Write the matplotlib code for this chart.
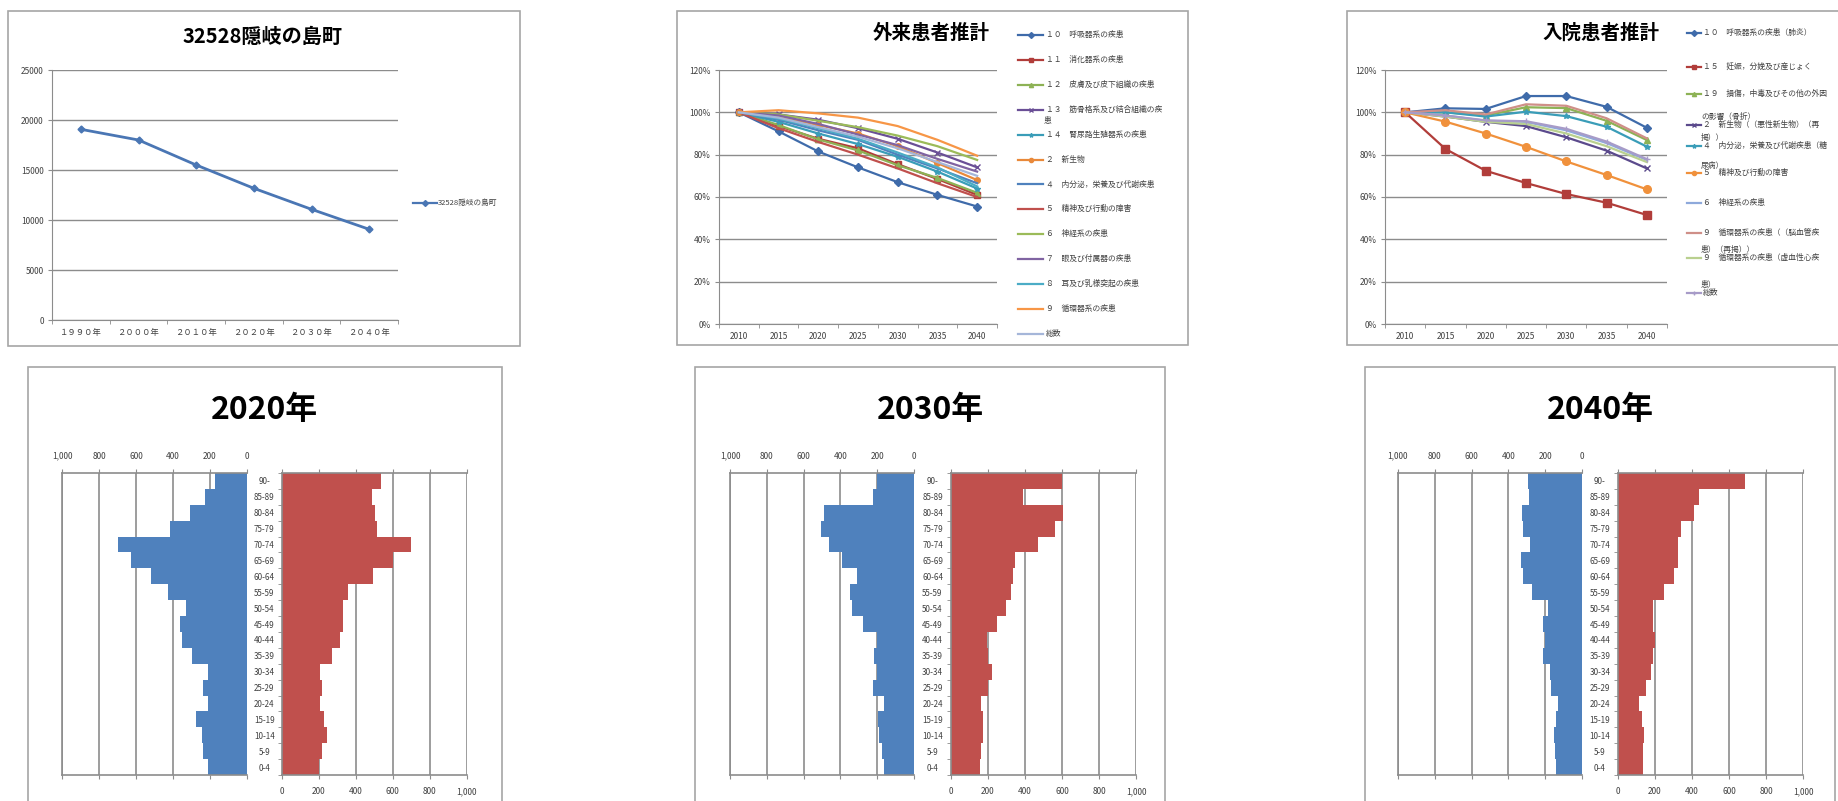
import numpy as np
import matplotlib
matplotlib.use("Agg")
import matplotlib.pyplot as plt
from matplotlib.patches import Rectangle
from matplotlib.lines import Line2D

plt.rcParams['font.family'] = ['Noto Sans CJK JP', 'DejaVu Sans']

W, H = 1838, 801
GRID = '#8C8C8C'
TXT = '#404040'

# --- population of 隠岐の島町 ---
pop_years = ['１９９０年', '２０００年', '２０１０年', '２０２０年', '２０３０年', '２０４０年']
pop_values = [19070, 18000, 15500, 13170, 11070, 9070]

# --- outpatient estimate (ratio to 2010) ---
est_years = ['2010', '2015', '2020', '2025', '2030', '2035', '2040']
out_labels = ['１０　呼吸器系の疾患', '１１　消化器系の疾患', '１２　皮膚及び皮下組織の疾患',
              '１３　筋骨格系及び結合組織の疾', '１４　腎尿路生殖器系の疾患', '２　新生物',
              '４　内分泌，栄養及び代謝疾患', '５　精神及び行動の障害', '６　神経系の疾患',
              '７　眼及び付属器の疾患', '８　耳及び乳様突起の疾患', '９　循環器系の疾患', '総数']
out_values = [
    [1.00, 0.910, 0.815, 0.740, 0.670, 0.610, 0.555],
    [1.00, 0.935, 0.875, 0.830, 0.755, 0.685, 0.610],
    [1.00, 0.940, 0.872, 0.820, 0.750, 0.690, 0.620],
    [1.00, 0.990, 0.965, 0.925, 0.875, 0.810, 0.740],
    [1.00, 0.955, 0.900, 0.850, 0.790, 0.720, 0.640],
    [1.00, 0.980, 0.940, 0.900, 0.840, 0.760, 0.680],
    [1.00, 0.965, 0.915, 0.870, 0.800, 0.735, 0.665],
    [1.00, 0.925, 0.860, 0.800, 0.735, 0.665, 0.600],
    [1.00, 0.990, 0.960, 0.930, 0.890, 0.840, 0.775],
    [1.00, 0.985, 0.945, 0.895, 0.845, 0.780, 0.720],
    [1.00, 0.970, 0.925, 0.875, 0.810, 0.740, 0.650],
    [1.00, 1.010, 0.995, 0.975, 0.935, 0.870, 0.795],
    [1.00, 0.975, 0.930, 0.885, 0.830, 0.765, 0.700],
]
out_colors = ['#3F6BAA', '#B13D3A', '#8DB255', '#6A4F96', '#3A9DB8', '#E9893A', '#4F81BD',
              '#C0504D', '#9BBB59', '#8064A2', '#4BACC6', '#F79646', '#A5B6D9']
out_markers = ['D', 's', '^', 'x', '*', 'o', None, None, None, None, None, None, None]

# --- inpatient estimate (ratio to 2010) ---
in_labels = ['１０　呼吸器系の疾患（肺炎）', '１５　妊娠，分娩及び産じょく',
             '１９　損傷，中毒及びその他の外因', '２　新生物（（悪性新生物）（再',
             '４　内分泌，栄養及び代謝疾患（糖', '５　精神及び行動の障害', '６　神経系の疾患',
             '９　循環器系の疾患（（脳血管疾', '９　循環器系の疾患（虚血性心疾', '総数']
in_wrap = ['', '', 'の影響（骨折）', '掲））', '尿病）', '', '', '患）（再掲））', '患）', '']
in_values = [
    [1.00, 1.019, 1.016, 1.077, 1.077, 1.026, 0.927],
    [1.00, 0.827, 0.724, 0.666, 0.614, 0.573, 0.515],
    [1.00, 1.000, 0.985, 1.024, 1.020, 0.960, 0.869],
    [1.00, 0.980, 0.955, 0.935, 0.882, 0.819, 0.735],
    [1.00, 1.000, 0.980, 1.003, 0.982, 0.932, 0.838],
    [1.00, 0.956, 0.900, 0.837, 0.768, 0.704, 0.636],
    [1.00, 0.985, 0.960, 0.955, 0.915, 0.855, 0.775],
    [1.00, 1.010, 0.990, 1.038, 1.031, 0.972, 0.877],
    [1.00, 0.980, 0.955, 0.945, 0.900, 0.840, 0.765],
    [1.00, 0.985, 0.962, 0.958, 0.922, 0.862, 0.779],
]
in_colors = ['#3F6BAA', '#B13D3A', '#8DB255', '#5B4A8C', '#3A9DB8', '#F0913C', '#8EA9DB',
             '#CF8F88', '#B9D08F', '#A79BC8']
in_markers = ['D', 's', '^', 'x', '*', 'o', None, None, None, '+']

# --- population pyramids (0-4 ... 90-) ---
ages = ['0-4', '5-9', '10-14', '15-19', '20-24', '25-29', '30-34', '35-39', '40-44', '45-49',
        '50-54', '55-59', '60-64', '65-69', '70-74', '75-79', '80-84', '85-89', '90-']
male_2020 = [211, 238, 243, 274, 207, 234, 211, 297, 351, 360, 328, 427, 519, 625, 697, 414, 306, 225, 171]
female_2020 = [204, 216, 247, 229, 207, 216, 207, 270, 315, 333, 333, 360, 492, 600, 699, 514, 505, 486, 535]
male_2030 = [163, 176, 188, 194, 163, 225, 203, 217, 203, 279, 339, 348, 312, 393, 460, 505, 487, 225, 203]
female_2030 = [157, 162, 175, 175, 160, 202, 220, 202, 193, 250, 297, 323, 333, 346, 472, 562, 607, 391, 602]
male_2040 = [143, 148, 153, 144, 134, 172, 175, 215, 202, 215, 188, 274, 323, 334, 283, 323, 329, 289, 296]
female_2040 = [135, 135, 142, 133, 117, 151, 180, 189, 201, 192, 189, 250, 305, 327, 327, 339, 413, 438, 686]


def px_axes(x0, y0, x1, y1):
    ax = fig.add_axes([x0 / W, 1 - y1 / H, (x1 - x0) / W, (y1 - y0) / H])
    ax.set_facecolor('none')
    return ax


def fig_text(x, y, s, **kw):
    fig.text(x / W, 1 - y / H, s, **kw)


def box(x0, y0, x1, y1):
    fig.add_artist(Rectangle((x0 / W, 1 - y1 / H), (x1 - x0) / W, (y1 - y0) / H,
                             transform=fig.transFigure, facecolor='white',
                             edgecolor='#A6A6A6', lw=1.2, zorder=0))


def legend_key(x0, x1, y, line):
    ym = 1 - y / H
    fig.add_artist(Line2D([x0 / W, x1 / W], [ym, ym], transform=fig.transFigure,
                          color=line.get_color(), lw=1.6))
    if line.get_marker() not in (None, 'None', ''):
        fig.add_artist(Line2D([(x0 + x1) / 2 / W], [ym], transform=fig.transFigure,
                              color=line.get_color(), marker=line.get_marker(), ms=3))


def style_line_axes(ax, n):
    ax.set_xlim(-0.5, n - 0.5)
    for s in ['top', 'right']:
        ax.spines[s].set_visible(False)
    for s in ['left', 'bottom']:
        ax.spines[s].set_color(GRID)
    ax.grid(axis='y', color=GRID, lw=1)
    ax.set_axisbelow(True)
    ax.tick_params(axis='x', which='major', length=0, labelsize=6, labelcolor=TXT, pad=6)
    ax.set_xticks(np.arange(-0.5, n, 1), minor=True)
    ax.tick_params(axis='x', which='minor', length=3, color=GRID)
    ax.tick_params(axis='y', length=3, color=GRID, labelsize=6, labelcolor=TXT, pad=3)


fig = plt.figure(figsize=(W / 100, H / 100), dpi=100)

# ---------- top left: population ----------
box(8, 11, 520, 346)
ax = px_axes(52, 70, 398, 320)
l_pop, = ax.plot(range(len(pop_values)), pop_values, color='#4A76B4', lw=2, marker='D', ms=3.5)
ax.set_ylim(0, 25000)
ax.set_yticks(range(0, 25001, 5000))
ax.set_xticks(range(len(pop_years)))
ax.set_xticklabels(pop_years)
style_line_axes(ax, len(pop_years))
fig_text(263, 36, '32528隠岐の島町', ha='center', va='center', fontsize=14.5, fontweight='bold')
legend_key(413, 437, 203, l_pop)
fig_text(438, 203, '32528隠岐の島町', va='center', fontsize=5.5, color=TXT)

# ---------- top middle: outpatients ----------
box(677, 11, 1188, 345)
ax = px_axes(719, 70, 997, 324)
out_lines = []
for vals, c, m in zip(out_values, out_colors, out_markers):
    ln, = ax.plot(range(len(est_years)), vals, color=c, lw=1.6, marker=m, ms=4)
    out_lines.append(ln)
ax.set_ylim(0, 1.2)
ax.set_yticks(np.arange(0, 1.21, 0.2))
ax.set_yticklabels([f'{int(round(v * 100))}%' for v in np.arange(0, 1.21, 0.2)])
ax.set_xticks(range(len(est_years)))
ax.set_xticklabels(est_years)
style_line_axes(ax, len(est_years))
fig_text(931, 33, '外来患者推計', ha='center', va='center', fontsize=14, fontweight='bold')
for i, (ln, lab) in enumerate(zip(out_lines, out_labels)):
    y = 35 + 24.9 * i
    legend_key(1018, 1043, y, ln)
    fig_text(1046, y, lab, va='center', fontsize=5.6, color=TXT)
fig_text(1044, 35 + 24.9 * 3 + 11, '患', va='center', fontsize=5.6, color=TXT)

# ---------- top right: inpatients ----------
box(1347, 11, 1850, 345)
ax = px_axes(1385, 70, 1667, 324)
in_lines = []
for vals, c, m in zip(in_values, in_colors, in_markers):
    ms = 5.5 if m in ('s', 'o') else 4
    ln, = ax.plot(range(len(est_years)), vals, color=c, lw=1.6, marker=m, ms=ms)
    in_lines.append(ln)
ax.set_ylim(0, 1.2)
ax.set_yticks(np.arange(0, 1.21, 0.2))
ax.set_yticklabels([f'{int(round(v * 100))}%' for v in np.arange(0, 1.21, 0.2)])
ax.set_xticks(range(len(est_years)))
ax.set_xticklabels(est_years)
style_line_axes(ax, len(est_years))
fig_text(1601, 33, '入院患者推計', ha='center', va='center', fontsize=14, fontweight='bold')
in_rows = [33, 67, 94, 125, 146, 173, 203, 233, 258, 293]
in_wrap_rows = [0, 0, 117, 138, 166, 0, 0, 250, 285, 0]
for ln, lab, y, wl, wy in zip(in_lines, in_labels, in_rows, in_wrap, in_wrap_rows):
    legend_key(1687, 1701, y, ln)
    fig_text(1703, y, lab, va='center', fontsize=5.6, color=TXT)
    if wl:
        fig_text(1701, wy, wl, va='center', fontsize=5.6, color=TXT)

# ---------- bottom: pyramids ----------
pyramids = [
    ('2020年', male_2020, female_2020, (28, 502), (62, 246.7), (281.7, 466.7)),
    ('2030年', male_2030, female_2030, (695, 1165), (730, 914), (951, 1136)),
    ('2040年', male_2040, female_2040, (1365, 1835), (1397.7, 1582.3), (1617.7, 1803.3)),
]
idx = np.arange(len(ages))
ticks = np.arange(0, 1001, 200)
tick_labels = [f'{t:,}' for t in ticks]
for title, male, female, (bx0, bx1), (mx0, mx1), (fx0, fx1) in pyramids:
    box(bx0, 367, bx1, 820)
    fig_text((bx0 + bx1) / 2, 410, title, ha='center', va='center', fontsize=23, fontweight='bold')

    axm = px_axes(mx0, 473, mx1, 775)
    axm.barh(idx, male, height=1.0, color='#4F81BD', zorder=2)
    axm.set_xlim(1000, 0)
    axm.set_ylim(-0.5, len(ages) - 0.5)
    axm.set_xticks(ticks)
    axm.set_xticklabels(tick_labels)
    axm.xaxis.tick_top()
    axm.tick_params(axis='x', top=True, bottom=True, labeltop=True, labelbottom=False,
                    length=3, color=GRID, labelsize=6, labelcolor=TXT, pad=6)
    axm.set_yticks([])
    axm.grid(axis='x', color=GRID, lw=1.2, zorder=0)
    axm.set_axisbelow(True)
    for s in ['top', 'bottom', 'left']:
        axm.spines[s].set_color(GRID)
        axm.spines[s].set_linewidth(1.2)
    axm.spines['right'].set_visible(False)

    axf = px_axes(fx0, 473, fx1, 775)
    axf.barh(idx, female, height=1.0, color='#C0504D', zorder=2)
    axf.set_xlim(0, 1000)
    axf.set_ylim(-0.5, len(ages) - 0.5)
    axf.set_xticks(ticks)
    axf.set_xticklabels(tick_labels)
    axf.tick_params(axis='x', top=True, bottom=True, labeltop=False, labelbottom=True,
                    length=3, color=GRID, labelsize=6, labelcolor=TXT, pad=6)
    axf.set_yticks(idx)
    axf.set_yticklabels(ages, ha='center')
    axf.tick_params(axis='y', which='major', length=0, labelsize=5.8, labelcolor=TXT,
                    pad=(fx0 - (mx1 + fx0) / 2) * 0.72)
    axf.set_yticks(np.arange(-0.5, len(ages), 1), minor=True)
    axf.tick_params(axis='y', which='minor', length=3, color=GRID)
    axf.grid(axis='x', color=GRID, lw=1.2, zorder=0)
    axf.set_axisbelow(True)
    for s in ['top', 'bottom', 'left', 'right']:
        axf.spines[s].set_color(GRID)
        axf.spines[s].set_linewidth(1.2)
    axf.spines['right'].set_visible(False)

fig.savefig('out.png', dpi=100)
